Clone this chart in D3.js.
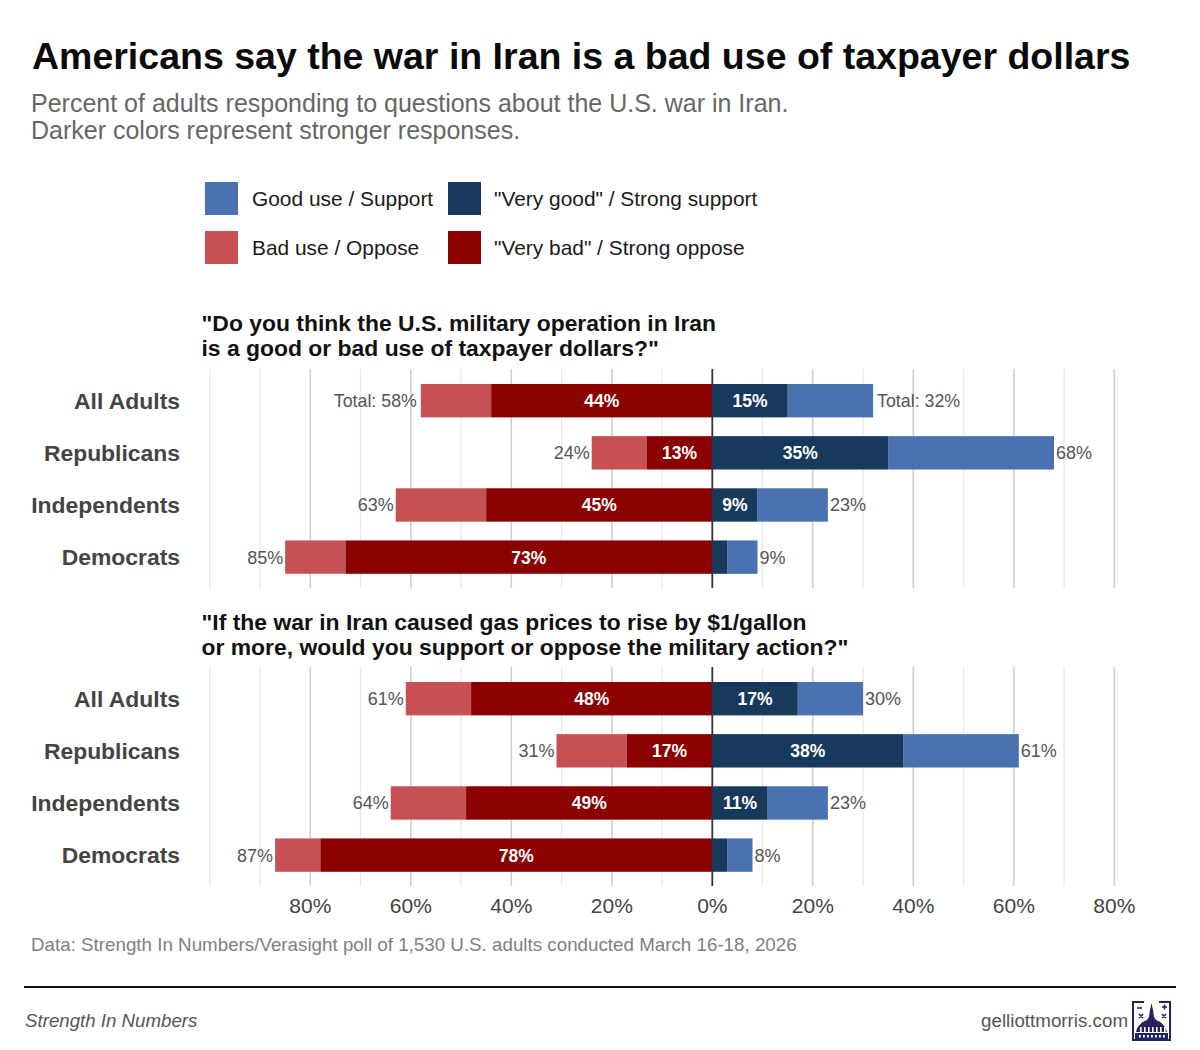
<!DOCTYPE html>
<html><head><meta charset="utf-8">
<script src="https://cdn.jsdelivr.net/npm/d3@7/dist/d3.min.js"></script>
<style>
html,body{margin:0;padding:0;background:#fff}
svg{display:block}
text{font-family:"Liberation Sans",Arial,sans-serif}
.domain{display:none}
</style></head><body><div id="chart"></div>
<script>
const groups = ["All Adults","Republicans","Independents","Democrats"];
const q1Lines = ['"Do you think the U.S. military operation in Iran','is a good or bad use of taxpayer dollars?"'];
const q2Lines = ['"If the war in Iran caused gas prices to rise by $1/gallon','or more, would you support or oppose the military action?"'];
const q1StrongBad = [44,13,45,73];
const q1TotalBad  = [58,24,63,85];
const q1StrongGood= [15,35,9,3];
const q1TotalGood = [32,68,23,9];
const q2StrongBad = [48,17,49,78];
const q2TotalBad  = [61,31,64,87];
const q2StrongGood= [17,38,11,3];
const q2TotalGood = [30,61,23,8];
const majorTicks = [-80,-60,-40,-20,0,20,40,60,80];
const minorTicks = [-100,-90,-70,-50,-30,-10,10,30,50,70];
const legendLabels = [["Good use / Support",'"Very good" / Strong support'],["Bad use / Oppose",'"Very bad" / Strong oppose']];
const COL = {good:"#4a71b0",vgood:"#17395c",bad:"#c65054",vbad:"#8b0000"};

const svg = d3.select("#chart").append("svg").attr("width",1200).attr("height",1050);
const x = d3.scaleLinear().domain([-80,80]).range([310.3,1114.3]);

function txt(s,px,py,size,fill,opt={}){
  return svg.append("text").attr("x",px).attr("y",py).attr("font-size",size).attr("fill",fill)
    .attr("font-weight",opt.weight||"normal").attr("font-style",opt.style||"normal")
    .attr("text-anchor",opt.anchor||"start").text(s);
}
txt("Americans say the war in Iran is a bad use of taxpayer dollars",32,69,37.5,"#0a0a0a",{weight:"bold"});
txt("Percent of adults responding to questions about the U.S. war in Iran.",31,112,25,"#666");
txt("Darker colors represent stronger responses.",31,139,25,"#666");

// legend
const legCols=[[205,252],[448,494]], legRows=[182,231], legFill=[[COL.good,COL.vgood],[COL.bad,COL.vbad]];
legendLabels.forEach((row,r)=>row.forEach((lab,c)=>{
  svg.append("rect").attr("x",legCols[c][0]).attr("y",legRows[r]).attr("width",33).attr("height",33).attr("fill",legFill[r][c]);
  txt(lab,legCols[c][1],legRows[r]+24.4,20.9,"#1a1a1a");
}));

function panel(lines,titleY,top,bottom,sb,tb,sg,tg,firstTotal,showAxis){
  lines.forEach((l,i)=>txt(l,201.5,titleY+i*25,22.9,"#111",{weight:"bold"}));
  const y=d3.scaleBand().domain(groups).range([top+0.4,bottom+0.4]).paddingInner(0.36).paddingOuter(0.28);
  const g=svg.append("g");
  g.selectAll("line.minor").data(minorTicks).join("line").attr("x1",d=>x(d)).attr("x2",d=>x(d)).attr("y1",top).attr("y2",bottom).attr("stroke","#e9e9e9").attr("stroke-width",1.3);
  g.selectAll("line.major").data(majorTicks.filter(d=>d!==0)).join("line").attr("x1",d=>x(d)).attr("x2",d=>x(d)).attr("y1",top).attr("y2",bottom).attr("stroke","#cfcfcf").attr("stroke-width",1.6);
  const segs=[[tb,sb,COL.bad,-1],[sb,null,COL.vbad,-1],[tg,sg,COL.good,1],[sg,null,COL.vgood,1]];
  segs.forEach(([outer,inner,col,sign])=>{
    g.selectAll(null).data(groups).join("rect")
      .attr("x",(d,i)=>sign<0?x(-outer[i]):x(inner?inner[i]:0))
      .attr("width",(d,i)=>Math.abs(x(outer[i])-x(inner?inner[i]:0)))
      .attr("y",d=>y(d)).attr("height",y.bandwidth()).attr("fill",col);
  });
  g.append("line").attr("x1",x(0)).attr("x2",x(0)).attr("y1",top).attr("y2",bottom).attr("stroke","#333").attr("stroke-width",1.8);
  const yAxis=g.append("g").attr("transform","translate(180,1)").call(d3.axisLeft(y).tickSize(0).tickPadding(0));
  yAxis.selectAll("text").attr("font-size",22.9).attr("font-weight","bold").attr("fill","#444").attr("font-family",'"Liberation Sans",Arial,sans-serif');
  groups.forEach((d,i)=>{
    const cy=y(d)+y.bandwidth()/2+6.4;
    if(sb[i]>=5) txt(sb[i]+"%",x(-sb[i]/2),cy,17.5,"#fff",{weight:"bold",anchor:"middle"});
    if(sg[i]>=5) txt(sg[i]+"%",x(sg[i]/2),cy,17.5,"#fff",{weight:"bold",anchor:"middle"});
    const tot=firstTotal&&i===0, pre=tot?"Total: ":"", gap=tot?4:2;
    txt(pre+tb[i]+"%",x(-tb[i])-gap,cy,tot?17.8:18,"#555",{anchor:"end"});
    txt(pre+tg[i]+"%",x(tg[i])+gap,cy,tot?17.8:18,"#555");
  });
  if(showAxis){
    const ax=svg.append("g").attr("transform",`translate(-0.5,${bottom})`).call(d3.axisBottom(x).tickValues(majorTicks).tickSize(0).tickPadding(12).tickFormat(d=>Math.abs(d)+"%"));
    ax.selectAll("text").attr("font-size",21).attr("fill","#444").attr("font-family",'"Liberation Sans",Arial,sans-serif');
  }
}
panel(q1Lines,331,369,588,q1StrongBad,q1TotalBad,q1StrongGood,q1TotalGood,true,false);
panel(q2Lines,630,667,886,q2StrongBad,q2TotalBad,q2StrongGood,q2TotalGood,false,true);

txt("Data: Strength In Numbers/Verasight poll of 1,530 U.S. adults conducted March 16-18, 2026",31,951,18.77,"#808080");
svg.append("line").attr("x1",24).attr("x2",1176).attr("y1",987).attr("y2",987).attr("stroke","#111").attr("stroke-width",2);
txt("Strength In Numbers",25,1027,18.7,"#555",{style:"italic"});
txt("gelliottmorris.com",1128,1027,18.75,"#555",{anchor:"end"});

// logo
const navy="#22235f";
const lg=svg.append("g").attr("transform","translate(1132,1001)");
lg.append("path").attr("d","M12,1 H1 V39 H38 V1 H27").attr("fill","none").attr("stroke",navy).attr("stroke-width",2);
lg.append("path").attr("d","M19.5,2 L21,9 L22,16 L24,19 C30,21 34,26 35,31 H4 C5,26 9,21 15,19 L17,16 L18,9 Z").attr("fill",navy);
lg.append("rect").attr("x",3).attr("y",32).attr("width",33).attr("height",6).attr("fill",navy);
lg.selectAll(null).data([8,12,16,20,24,28,32]).join("rect").attr("x",d=>d).attr("y",26).attr("width",1.6).attr("height",5).attr("fill","#fff");
lg.selectAll(null).data([7,11,15,19,23,27,31]).join("rect").attr("x",d=>d).attr("y",34).attr("width",1.8).attr("height",2.5).attr("fill","#fff");
lg.append("path").attr("d","M5,7 H10 M7,13 L11,17 M11,13 L7,17 M30,6 H35 M32.5,3.5 V8.5 M30,13 L34,17 M34,13 L30,17").attr("stroke",navy).attr("stroke-width",1.6).attr("fill","none");
</script></body></html>
